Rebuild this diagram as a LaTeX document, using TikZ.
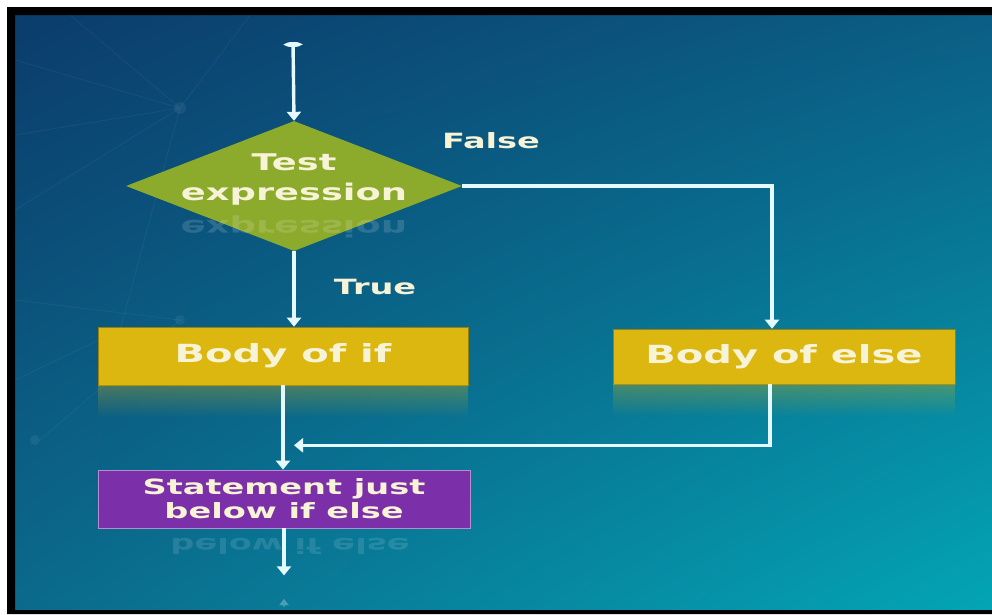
\documentclass[tikz,border=0pt]{standalone}
\usepackage{fontspec}
\newfontfamily\lbl{DejaVu Sans}[FakeStretch=1.6]
\usetikzlibrary{arrows.meta,shapes.geometric,fadings,shadings}
\definecolor{bgTL}{HTML}{0B3C6C}
\definecolor{bgTR}{HTML}{0B5E85}
\definecolor{bgBL}{HTML}{0B6A8C}
\definecolor{bgBR}{HTML}{03A5B5}
\definecolor{lineC}{HTML}{E4FAFF}
\definecolor{diaC}{HTML}{8CAA2C}
\definecolor{boxY}{HTML}{DCB70F}
\definecolor{boxP}{HTML}{7B2FA8}
\definecolor{txtC}{HTML}{F7F3D6}
\tikzfading[name=fadedown, top color=transparent!70, bottom color=transparent!100]
\begin{document}
\begin{tikzpicture}[x=1pt,y=-1pt,
  txt/.style={text=txtC, inner sep=0pt, align=center},
  dia/.style={diamond, fill=diaC, inner sep=0pt, aspect=2.6, minimum width=336pt, minimum height=130pt},
  ybox/.style={rectangle, fill=boxY, draw=boxY!70!black, line width=0.6pt, minimum width=370pt, minimum height=58pt, text=txtC, font=\lbl\bfseries\fontsize{25}{29}\selectfont},
  pbox/.style={rectangle, fill=boxP, draw=boxP!55!white, line width=0.8pt, minimum width=372pt, minimum height=58pt, text=txtC, align=center, font=\lbl\bfseries\fontsize{21}{24}\selectfont},
  conn/.style={draw=lineC, line width=3.4pt, -{Triangle[width=14pt,length=9pt]}},
  deco/.style={draw=white, opacity=0.05, line width=0.8pt}
]
\useasboundingbox (0,0) rectangle (992,614);
\fill[white] (0,0) rectangle (992,614);
\shade[upper left=bgTL, upper right=bgTR, lower left=bgBL, lower right=bgBR] (15,15) rectangle (992,610);
% faint decorative network
\draw[deco] (180,108) -- (15,60) (180,108) -- (15,135) (180,108) -- (70,15) (180,108) -- (15,210)
  (180,108) -- (120,330) (180,108) -- (250,15) (15,300) -- (180,320) (180,320) -- (40,440) (15,380) -- (120,330);
\fill[white, opacity=0.06] (180,108) circle (6pt) (180,320) circle (5pt) (35,440) circle (5pt);
% black frame
\fill[black] (7,7) rectangle (992,15) (7,7) rectangle (15,614) (7,610) rectangle (992,614);

% nodes
\coordinate (start) at (293,42);
\node[dia] (test) at (294,186) {};
\node[txt, font=\lbl\bfseries\fontsize{23}{30}\selectfont] (testtxt) at (294,180) {Test\\expression};
\node[txt, text=white, opacity=0.14, font=\lbl\bfseries\fontsize{23}{30}\selectfont] (testrefl) at (294,227) {\scalebox{1}[-1]{expression}};
\node[ybox] (ifb) at (283,356) {Body of if};
\node[ybox, minimum width=342pt, minimum height=55pt] (elseb) at (784,356.5) {Body of else};
\node[pbox] (stmt) at (284,499) {Statement just\\below if else};
\node[txt, text=white, opacity=0.12, font=\lbl\bfseries\fontsize{21}{24}\selectfont] (stmtrefl) at (290,546) {\scalebox{1}[-1]{below if else}};
\node[txt, font=\lbl\bfseries\fontsize{21}{24}\selectfont] (false) at (491,141) {False};
\node[txt, font=\lbl\bfseries\fontsize{21}{24}\selectfont] (true) at (375,287) {True};

% box reflections
\fill[boxY, path fading=fadedown] (ifb.south west) rectangle ([yshift=-32pt]ifb.south east);
\fill[boxY, path fading=fadedown] (elseb.south west) rectangle ([yshift=-32pt]elseb.south east);

% connectors
\draw[conn, {Ellipse[length=5pt,width=16pt]}-{Triangle[width=14pt,length=9pt]}] (start) -- (test.north);
\draw[conn] (test.south) -- (test.south |- ifb.north);
\draw[conn] (test.east) -| ([xshift=-12pt]elseb.north);
\draw[conn] (ifb.south) -- (ifb.south |- stmt.north);
\path (ifb.south) ++(0,60) coordinate (join);
\draw[conn] ([xshift=-14pt]elseb.south) |- ([xshift=11pt]join);
\coordinate (outend) at ([yshift=-47pt]stmt.south);
\draw[conn] (stmt.south) -- (outend);
\coordinate (ghostA) at ([yshift=-79pt]stmt.south);
\coordinate (ghostB) at ([yshift=-70pt]stmt.south);
\draw[conn, opacity=0.2, line width=2pt, -{Triangle[width=10pt,length=7pt]}] (ghostA) -- (ghostB);
\end{tikzpicture}
\end{document}
